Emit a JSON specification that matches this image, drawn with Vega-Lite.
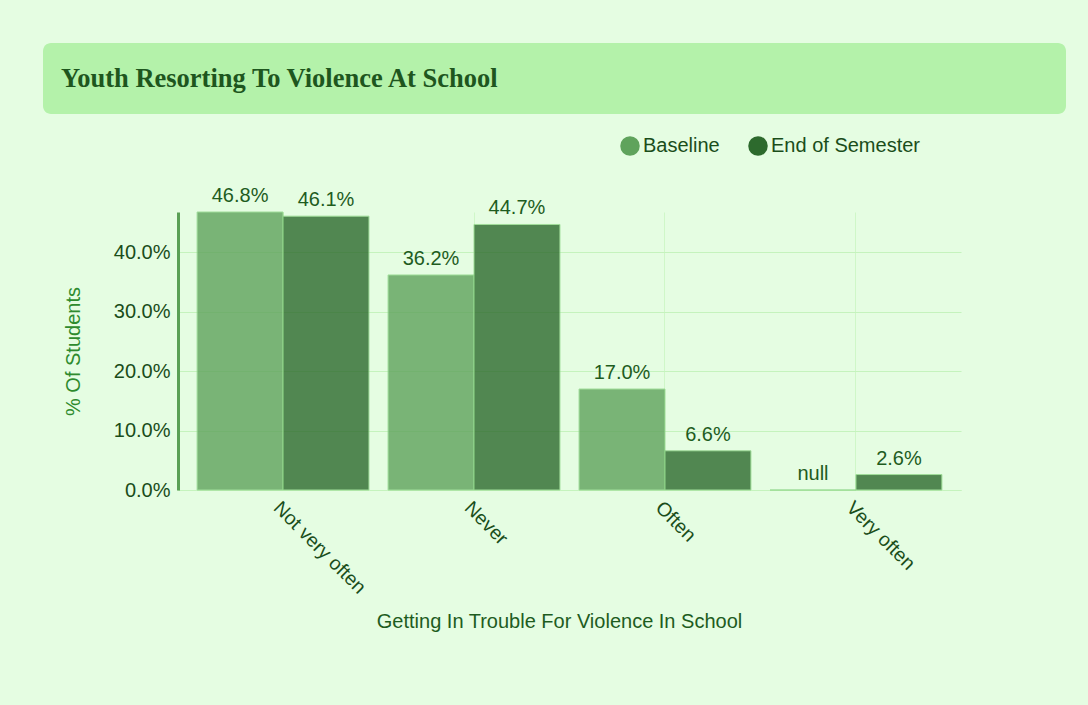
{
  "$schema": "https://vega.github.io/schema/vega-lite/v6.json",
  "background": "#e5fde2",
  "padding": {"left": 43, "top": 43, "right": 22, "bottom": 77},
  "spacing": 22,
  "resolve": {"scale": {"color": "independent"}, "legend": {"color": "independent"}},
  "config": {
    "font": "Liberation Sans",
    "view": {"stroke": null}
  },
  "vconcat": [
    {
      "width": 1023,
      "height": 71,
      "view": {"fill": "#b4f2aa", "cornerRadius": 8, "stroke": null},
      "data": {"values": [{"title": "Youth Resorting To Violence At School"}]},
      "mark": {"type": "text", "font": "Liberation Serif", "fontWeight": "bold", "fontSize": 26.5, "color": "#1e561e", "align": "left", "baseline": "middle"},
      "encoding": {
        "text": {"field": "title", "type": "nominal"},
        "x": {"value": 18},
        "y": {"value": 36}
      }
    },
    {
      "spacing": 0,
      "resolve": {"scale": {"color": "independent"}, "legend": {"color": "independent"}},
      "hconcat": [
        {
          "width": 20,
          "height": 1,
          "data": {"values": []},
          "mark": {"type": "point", "opacity": 0}
        },
        {
          "width": 783,
          "height": 278,
          "data": {"values": [
            {"category": "Not very often", "series": "Baseline", "value": 0.468, "label": "46.8%"},
            {"category": "Not very often", "series": "End of Semester", "value": 0.461, "label": "46.1%"},
            {"category": "Never", "series": "Baseline", "value": 0.362, "label": "36.2%"},
            {"category": "Never", "series": "End of Semester", "value": 0.447, "label": "44.7%"},
            {"category": "Often", "series": "Baseline", "value": 0.170, "label": "17.0%"},
            {"category": "Often", "series": "End of Semester", "value": 0.066, "label": "6.6%"},
            {"category": "Very often", "series": "Baseline", "value": 0, "label": "null"},
            {"category": "Very often", "series": "End of Semester", "value": 0.026, "label": "2.6%"}
          ]},
          "encoding": {
            "x": {
              "field": "category", "type": "nominal",
              "sort": ["Not very often", "Never", "Often", "Very often"],
              "scale": {"paddingInner": 0.1, "paddingOuter": 0.1},
              "axis": {
                "title": "Getting In Trouble For Violence In School",
                "titleFontSize": 20, "titleFontWeight": "normal", "titleColor": "#1e5c1e", "titlePadding": 15, "titleX": 381,
                "labelAngle": 45, "labelAlign": "left", "labelBaseline": "top",
                "labelFontSize": 19.5, "labelColor": "#1a4d1a", "labelPadding": 8,
                "ticks": false, "domainColor": "#c5f3bd", "domainWidth": 1,
                "grid": true, "gridColor": "#cff7c8"
              }
            },
            "xOffset": {"field": "series", "type": "nominal", "sort": ["Baseline", "End of Semester"]},
            "y": {
              "field": "value", "type": "quantitative",
              "scale": {"domain": [0, 0.468], "nice": false},
              "axis": {
                "title": "% Of Students",
                "titleFontSize": 20, "titleFontWeight": "normal", "titleColor": "#2e8b2e", "titlePadding": 30,
                "values": [0, 0.1, 0.2, 0.3, 0.4], "format": ".1%",
                "labelFontSize": 20, "labelColor": "#1a4d1a", "labelPadding": 8,
                "ticks": false, "domainColor": "#5aa055", "domainWidth": 3,
                "grid": true, "gridColor": "#c5f3bd"
              }
            }
          },
          "layer": [
            {
              "mark": {"type": "bar", "opacity": 0.8, "stroke": "#8fd688", "strokeWidth": 1},
              "encoding": {
                "color": {
                  "field": "series", "type": "nominal",
                  "scale": {"domain": ["Baseline", "End of Semester"], "range": ["#5fa35c", "#2d6a2d"]},
                  "legend": {
                    "title": null, "orient": "none", "direction": "horizontal",
                    "legendX": 442, "legendY": -76, "padding": 0,
                    "symbolType": "circle", "symbolSize": 380, "symbolOpacity": 1, "symbolStrokeWidth": 0,
                    "labelFontSize": 20, "labelColor": "#1a4d1a", "labelOffset": 3, "columnPadding": 28
                  }
                }
              }
            },
            {
              "mark": {"type": "text", "baseline": "bottom", "dy": -6, "fontSize": 20, "color": "#1e5c1e"},
              "encoding": {
                "text": {"field": "label", "type": "nominal"}
              }
            }
          ]
        }
      ]
    }
  ]
}
